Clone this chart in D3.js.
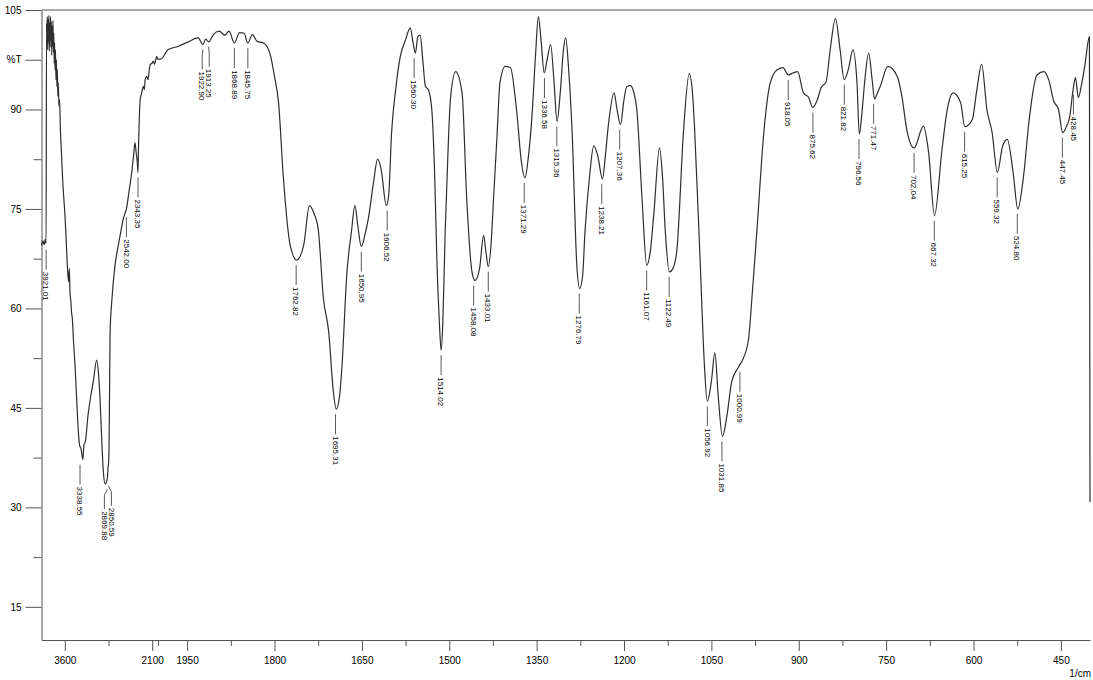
<!DOCTYPE html>
<html>
<head>
<meta charset="utf-8">
<script src="https://cdn.jsdelivr.net/npm/d3@7"></script>
<style>
  body { margin: 0; background: #fff; }
  svg { display: block; font-family: "Liberation Sans", Arial, sans-serif; }
</style>
</head>
<body>
<svg id="chart" width="1093" height="680"></svg>
<script>
// spectrum (1/cm, %T)
var wavenumber = [
  4000, 3975, 3955, 3935, 3921, 3914, 3908, 3901, 3894, 3887, 3880, 3873, 3866, 3859, 3852,
  3845, 3838, 3831, 3824, 3817, 3810, 3803, 3796, 3789, 3782, 3775, 3768, 3760, 3752, 3744,
  3736, 3728, 3720, 3712, 3700, 3690, 3676, 3660, 3640, 3620, 3597, 3575, 3550, 3535, 3522,
  3511, 3495, 3485, 3471, 3450, 3425, 3400, 3368, 3345, 3320, 3290, 3270, 3250, 3200, 3150,
  3111, 3052, 3020, 2996, 2960, 2935, 2905, 2880, 2868, 2858, 2850, 2842, 2832, 2822, 2790,
  2738, 2682, 2640, 2596, 2560, 2542, 2500, 2451, 2420, 2395, 2375, 2355, 2345, 2335, 2320,
  2305, 2280, 2252, 2235, 2220, 2194, 2170, 2150, 2130, 2100, 2081, 2060, 2040, 2022, 2005,
  1995, 1983, 1966, 1948, 1931, 1923, 1918, 1913, 1905, 1895, 1885, 1878, 1869, 1860, 1852,
  1846, 1838, 1830, 1818, 1808, 1800, 1793, 1785, 1773, 1762, 1750, 1740, 1733, 1725, 1716,
  1707, 1699, 1694, 1688, 1684, 1676, 1668, 1662, 1657, 1651, 1645, 1639, 1630, 1623, 1617,
  1608, 1604, 1599, 1592, 1584, 1575, 1567, 1562, 1558, 1554, 1550, 1545, 1541, 1536, 1530,
  1525, 1521, 1517, 1514, 1511, 1507, 1502, 1498, 1489, 1478, 1470, 1461, 1456, 1448, 1441,
  1437, 1433, 1428, 1424, 1418, 1413, 1404, 1395, 1384, 1376, 1370, 1364, 1358, 1352, 1347,
  1342, 1337, 1332, 1326, 1320, 1315, 1309, 1304, 1300, 1295, 1289, 1281, 1276, 1271, 1267,
  1259, 1252, 1245, 1237, 1232, 1227, 1217, 1212, 1206, 1200, 1195, 1189, 1183, 1178, 1169,
  1161, 1155, 1149, 1139, 1134, 1129, 1122, 1116, 1109, 1098, 1088, 1082, 1079, 1069, 1062,
  1057, 1050, 1044, 1038, 1031, 1023, 1015, 1003, 995, 986, 980, 972, 960, 949, 937,
  927, 918, 910, 902, 892, 883, 876, 868, 862, 853, 846, 837, 829, 822, 815,
  807, 800, 796, 791, 787, 780, 774, 770, 765, 760, 747, 731, 723, 714, 702,
  686, 677, 667, 654, 645, 635, 622, 615, 602, 595, 586, 577, 568, 559, 550,
  542, 532, 524, 514, 505, 491, 479, 471, 462, 454, 447, 440, 435, 429, 425,
  420, 414, 409, 401, 400
]
var transmittance = [
  69.5, 70.2, 69.6, 70.4, 69.8, 103.0, 100.5, 104.0, 99.0, 103.6, 100.2, 104.2, 98.8, 103.0, 99.4,
  104.0, 100.5, 103.2, 98.2, 102.6, 99.6, 103.4, 98.6, 101.5, 97.0, 100.0, 96.0, 99.0, 94.5, 97.5,
  93.5, 96.0, 92.0, 94.0, 90.5, 91.5, 87.0, 84.0, 80.0, 77.0, 74.0, 70.0, 65.5, 64.0, 66.0,
  62.5, 61.0, 59.5, 58.5, 55.0, 51.5, 47.0, 41.5, 39.3, 38.8, 37.2, 39.5, 39.8, 44.0, 47.0,
  49.0, 52.2, 50.0, 46.5, 39.0, 35.0, 33.5, 34.0, 34.5, 36.0, 36.5, 38.5, 47.0, 56.5, 61.5,
  66.5, 69.5, 71.5, 73.5, 74.5, 75.0, 77.5, 80.5, 83.0, 85.0, 83.5, 82.0, 80.5, 84.0, 89.0,
  91.5, 92.5, 93.5, 93.0, 94.5, 95.0, 94.5, 96.0, 96.8, 97.0, 97.3, 96.8, 97.5, 98.0, 97.6,
  97.6, 99.0, 99.5, 100.2, 100.8, 99.8, 100.6, 100.2, 101.3, 101.8, 101.2, 101.8, 100.0, 101.6, 101.5,
  100.0, 101.3, 100.3, 100.0, 98.5, 95.0, 91.0, 80.0, 69.5, 67.3, 69.5, 75.5, 74.5, 72.0, 61.5,
  56.5, 47.5, 44.8, 47.0, 51.5, 65.0, 71.5, 75.5, 72.5, 69.3, 71.0, 73.5, 79.0, 82.5, 81.0,
  75.5, 77.0, 86.5, 93.0, 98.0, 100.5, 102.3, 100.0, 98.5, 101.0, 101.2, 97.0, 93.5, 93.0, 90.0,
  80.0, 66.5, 58.0, 53.7, 58.0, 71.5, 84.0, 91.5, 95.7, 92.5, 76.5, 65.5, 64.2, 66.0, 71.0,
  68.5, 66.3, 70.0, 76.5, 86.0, 94.0, 96.5, 96.3, 89.5, 82.0, 79.7, 83.0, 89.0, 98.0, 104.0,
  100.0, 95.5, 97.5, 99.8, 94.0, 88.2, 93.0, 99.0, 100.8, 96.0, 86.5, 66.5, 63.0, 65.0, 71.5,
  80.0, 84.5, 83.0, 79.5, 83.0, 87.5, 92.5, 90.0, 87.7, 91.5, 93.5, 93.6, 92.5, 90.0, 76.5,
  66.5, 68.5, 74.0, 84.2, 80.0, 71.5, 65.5, 66.0, 69.0, 86.5, 95.4, 92.0, 87.5, 66.5, 51.5,
  46.0, 49.0, 53.3, 46.5, 40.7, 44.0, 49.0, 51.2, 52.5, 55.5, 62.0, 71.5, 86.5, 94.0, 96.0,
  96.3, 95.2, 95.5, 95.7, 92.5, 91.8, 90.3, 91.5, 93.2, 94.2, 99.0, 103.7, 99.0, 94.5, 96.0,
  99.0, 94.0, 86.3, 90.0, 94.0, 98.5, 94.5, 91.6, 92.5, 93.5, 96.5, 95.0, 92.0, 86.7, 84.2,
  87.5, 83.5, 74.0, 84.0, 90.0, 92.5, 91.0, 87.4, 88.5, 92.5, 96.8, 90.0, 86.5, 80.5, 84.5,
  85.5, 80.5, 75.0, 80.0, 88.0, 95.2, 95.7, 94.5, 91.2, 90.0, 86.5, 87.5, 88.8, 93.0, 94.8,
  91.8, 94.0, 96.5, 101.0, 30.8
]

// peak picks printed on the chart
var peaks = [
  3921.01, 3338.55, 2869.88, 2850.59, 2542.00, 2343.35, 1922.90, 1913.25, 1868.89, 1845.75,
  1762.82, 1695.31, 1650.95, 1606.52, 1560.30, 1514.02, 1458.08, 1433.01, 1371.29, 1336.58,
  1315.36, 1276.79, 1238.21, 1207.36, 1161.07, 1122.49, 1056.92, 1031.85, 1000.99, 918.05,
  875.62, 821.82, 796.56, 771.47, 702.04, 667.32, 615.25, 559.32, 524.80, 447.45, 428.45
]

var xMajorTicks = [3600, 2100, 1950, 1800, 1650, 1500, 1350, 1200, 1050, 900, 750, 600, 450]
var xMinorTicks = [2850, 2000, 1875, 1725, 1575, 1425, 1275, 1125, 975, 825, 675, 525]
var yMajorTicks = [105, 97.5, 90, 75, 60, 45, 30, 15]
var yMinorTicks = [82.5, 67.5, 52.5, 37.5, 22.5]
var yUnitLabel = '%T'
var xUnitLabel = '1/cm'

var svg = d3.select('#chart')
var ink = '#2e2e2e'
var frame = '#555'

// 4000-2000 is squeezed 10x, 2000-400 linear
var x = d3.scaleLinear().domain([4000, 2000, 400]).range([41.5, 158, 1090])
var y = d3.scaleLinear().domain([10, 105]).range([640, 10])

// top border
svg.append('line')
  .attr('x1', x(4000)).attr('x2', 1093)
  .attr('y1', y(105)).attr('y2', y(105))
  .attr('stroke', frame).attr('stroke-width', 1)

function styleAxis(g) {
  g.selectAll('path, line').attr('stroke', frame)
  g.selectAll('text').attr('fill', '#000').style('font-size', '10px')
}

svg.append('g')
  .attr('transform', 'translate(' + x(4000) + ',0)')
  .call(d3.axisLeft(y).tickValues(yMajorTicks).tickSize(16).tickSizeOuter(0).tickPadding(4)
    .tickFormat(function (d) { return d === 97.5 ? yUnitLabel : d }))
  .call(styleAxis)

svg.append('g')
  .attr('transform', 'translate(' + x(4000) + ',0)')
  .call(d3.axisLeft(y).tickValues(yMinorTicks).tickSize(8).tickFormat(''))
  .call(styleAxis)
  .select('.domain').remove()

svg.append('g')
  .attr('transform', 'translate(0,' + y(10) + ')')
  .call(d3.axisBottom(x).tickValues(xMajorTicks).tickSize(11).tickSizeOuter(0).tickPadding(6)
    .tickFormat(d3.format('d')))
  .call(styleAxis)

svg.append('g')
  .attr('transform', 'translate(0,' + y(10) + ')')
  .call(d3.axisBottom(x).tickValues(xMinorTicks).tickSize(6).tickFormat(''))
  .call(styleAxis)
  .select('.domain').remove()

svg.append('text')
  .attr('x', 1091).attr('y', 677)
  .attr('text-anchor', 'end')
  .attr('fill', '#000')
  .style('font-size', '10px')
  .text(xUnitLabel)

// spectrum
var points = wavenumber.map(function (w, i) { return [w, transmittance[i]] })
var line = d3.line()
  .x(function (d) { return x(d[0]) })
  .y(function (d) { return y(d[1]) })
  .curve(d3.curveMonotoneX)

svg.append('path')
  .datum(points)
  .attr('d', line)
  .attr('fill', 'none')
  .attr('stroke', ink)
  .attr('stroke-width', 1.2)
  .attr('stroke-linejoin', 'round')

// peak labels: leader below the lowest nearby point, value rotated underneath
var labels = peaks.map(function (p) {
  var px = x(p)
  var near = points.filter(function (d) { return Math.abs(x(d[0]) - px) <= 3 })
  var t = d3.min(near, function (d) { return d[1] })
  return { value: p, cx: px, lx: px, y0: y(t) }
})

// push apart labels that would sit on top of each other
var gap = 7
for (var i = 1; i < labels.length; i++) {
  var a = labels[i - 1], b = labels[i]
  if (b.lx - a.lx < gap) {
    var mid = (a.lx + b.lx) / 2
    a.lx = mid - gap / 2
    b.lx = mid + gap / 2
  }
}

var pk = svg.append('g')
pk.selectAll('path')
  .data(labels)
  .join('path')
  .attr('d', function (d) {
    return 'M' + d.cx + ',' + (d.y0 + 5) + 'L' + d.lx + ',' + (d.y0 + 11) + 'L' + d.lx + ',' + (d.y0 + 25)
  })
  .attr('fill', 'none')
  .attr('stroke', ink)
  .attr('stroke-width', 0.8)

pk.selectAll('text')
  .data(labels)
  .join('text')
  .attr('transform', function (d) { return 'translate(' + d.lx + ',' + (d.y0 + 27) + ') rotate(90)' })
  .attr('dy', '0.35em')
  .attr('fill', '#000')
  .style('font-size', '8px')
  .text(function (d) { return d.value.toFixed(2) })
</script>
</body>
</html>
